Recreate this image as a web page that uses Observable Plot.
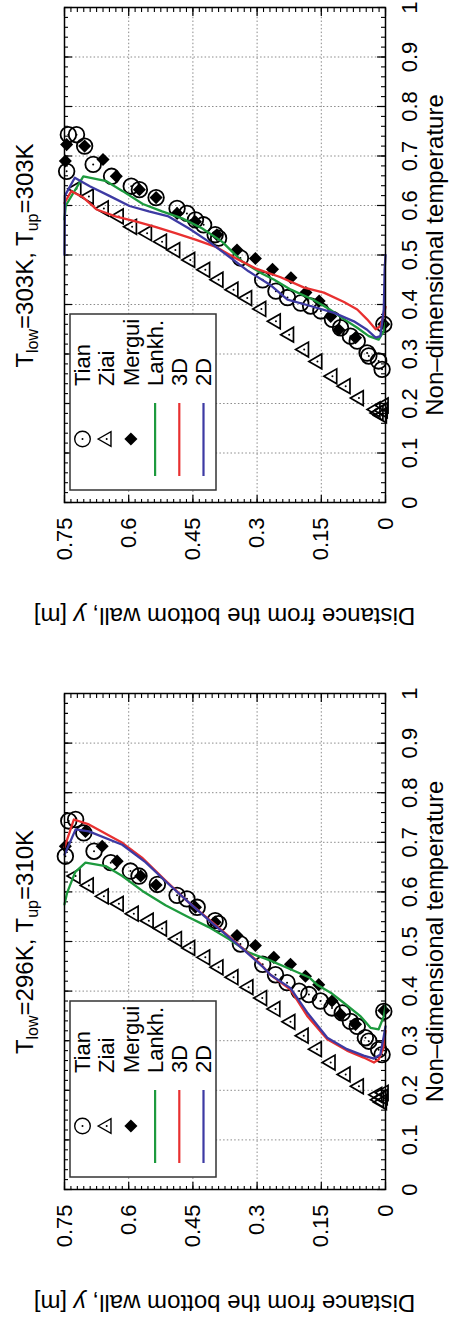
<!DOCTYPE html>
<html><head><meta charset="utf-8">
<script src="https://cdn.jsdelivr.net/npm/d3@7"></script>
<script src="https://cdn.jsdelivr.net/npm/@observablehq/plot@0.6"></script>
<style>
html,body{margin:0;padding:0;background:#fff;overflow:hidden;width:458px;height:1318px;}
#fig{position:absolute;left:0;top:0;width:1318px;height:458px;transform-origin:0 0;transform:translate(0,1318px) rotate(-90deg);display:flex;background:#fff;}
#fig svg{display:block;}
</style></head><body><div id="fig"></div><script>
// ---- axes ----
const tempTicks = [0,0.1,0.2,0.3,0.4,0.5,0.6,0.7,0.8,0.9,1];
const tempTickLabels = ["0","0.1","0.2","0.3","0.4","0.5","0.6","0.7","0.8","0.9","1"];
const distTicks = [0,0.15,0.3,0.45,0.6,0.75];
const distTickLabels = ["0","0.15","0.3","0.45","0.6","0.75"];
const xLabel = "Non\u2013dimensional temperature";
const seriesNames = ["Tian","Ziai","Mergui","Lankh.","3D","2D"];
const lineColors = ["#1d9a3e","#e83030","#3d3aa3"]; // Lankh., 3D, 2D
const panelTitles = [["296K","310K"],["303K","303K"]];

// ---- panel A: T_low=296K, T_up=310K  ([temperature, distance]) ----
const tianA = [[0.672,0.748],[0.743,0.740],[0.746,0.724],[0.719,0.705],[0.682,0.681],[0.659,0.642],[0.642,0.596],[0.632,0.576],[0.615,0.533],[0.593,0.487],[0.586,0.464],[0.569,0.440],[0.542,0.398],[0.536,0.390],[0.495,0.339],[0.454,0.287],[0.433,0.257],[0.417,0.230],[0.400,0.202],[0.393,0.179],[0.380,0.152],[0.366,0.125],[0.356,0.101],[0.339,0.082],[0.329,0.066],[0.306,0.047],[0.299,0.039],[0.282,0.016],[0.272,0.008],[0.359,0.004]];
const ziaiA = [[0.632,0.724],[0.613,0.693],[0.591,0.658],[0.576,0.623],[0.556,0.588],[0.542,0.553],[0.526,0.522],[0.505,0.487],[0.487,0.456],[0.468,0.421],[0.448,0.390],[0.428,0.355],[0.408,0.320],[0.386,0.288],[0.364,0.257],[0.338,0.222],[0.310,0.191],[0.283,0.160],[0.256,0.128],[0.232,0.093],[0.208,0.062],[0.191,0.019],[0.181,0.015],[0.186,0.006],[0.176,0.008],[0.195,0.004]];
const merguiA = [[0.692,0.748],[0.722,0.701],[0.692,0.662],[0.662,0.627],[0.632,0.572],[0.614,0.536],[0.569,0.444],[0.539,0.398],[0.512,0.347],[0.492,0.304],[0.468,0.261],[0.454,0.222],[0.430,0.187],[0.413,0.156],[0.380,0.125],[0.353,0.105],[0.333,0.070],[0.361,0.004]];
const lankhA = [[0.575,0.750],[0.598,0.744],[0.640,0.725],[0.659,0.701],[0.652,0.654],[0.632,0.615],[0.602,0.568],[0.573,0.514],[0.549,0.460],[0.529,0.413],[0.505,0.366],[0.478,0.320],[0.462,0.270],[0.444,0.222],[0.428,0.179],[0.413,0.160],[0.395,0.125],[0.376,0.097],[0.349,0.058],[0.326,0.035],[0.323,0.016],[0.349,0.004],[0.370,0.000]];
const sim3DA = [[0.690,0.750],[0.746,0.728],[0.736,0.693],[0.699,0.615],[0.669,0.569],[0.623,0.514],[0.579,0.460],[0.539,0.405],[0.499,0.351],[0.458,0.296],[0.433,0.269],[0.403,0.222],[0.350,0.183],[0.303,0.136],[0.280,0.090],[0.266,0.051],[0.256,0.027],[0.262,0.016],[0.285,0.005],[0.320,0.000]];
const sim2DA = [[0.675,0.750],[0.726,0.724],[0.722,0.693],[0.695,0.615],[0.660,0.561],[0.616,0.507],[0.573,0.452],[0.532,0.398],[0.492,0.343],[0.450,0.288],[0.433,0.269],[0.406,0.222],[0.357,0.183],[0.306,0.136],[0.283,0.090],[0.270,0.051],[0.264,0.027],[0.272,0.012],[0.309,0.004],[0.329,0.000]];

// ---- panel B: T_low=303K, T_up=303K ----
const tianB = [[0.669,0.745],[0.743,0.741],[0.743,0.722],[0.720,0.703],[0.683,0.683],[0.659,0.640],[0.639,0.594],[0.632,0.575],[0.616,0.536],[0.594,0.487],[0.584,0.464],[0.571,0.444],[0.561,0.425],[0.541,0.398],[0.534,0.390],[0.494,0.339],[0.450,0.287],[0.427,0.256],[0.414,0.229],[0.403,0.198],[0.397,0.175],[0.387,0.151],[0.370,0.124],[0.353,0.105],[0.336,0.082],[0.326,0.066],[0.302,0.043],[0.296,0.039],[0.286,0.016],[0.269,0.008],[0.360,0.004]];
const ziaiB = [[0.634,0.722],[0.618,0.693],[0.594,0.658],[0.578,0.623],[0.557,0.592],[0.544,0.557],[0.527,0.522],[0.510,0.491],[0.490,0.456],[0.470,0.421],[0.450,0.390],[0.430,0.355],[0.413,0.323],[0.391,0.290],[0.366,0.256],[0.339,0.225],[0.309,0.190],[0.285,0.159],[0.255,0.124],[0.235,0.093],[0.211,0.062],[0.188,0.023],[0.181,0.016],[0.186,0.006],[0.176,0.008],[0.196,0.004]];
const merguiB = [[0.723,0.745],[0.690,0.748],[0.720,0.703],[0.693,0.660],[0.659,0.629],[0.632,0.575],[0.616,0.536],[0.584,0.487],[0.567,0.444],[0.541,0.394],[0.510,0.347],[0.493,0.304],[0.471,0.264],[0.454,0.221],[0.424,0.186],[0.407,0.155],[0.376,0.128],[0.349,0.109],[0.333,0.070],[0.360,0.004]];
const lankhB = [[0.572,0.750],[0.600,0.747],[0.659,0.706],[0.649,0.652],[0.629,0.614],[0.603,0.567],[0.588,0.522],[0.574,0.475],[0.554,0.429],[0.527,0.382],[0.487,0.335],[0.462,0.288],[0.450,0.260],[0.430,0.221],[0.410,0.170],[0.390,0.130],[0.372,0.100],[0.353,0.066],[0.336,0.039],[0.329,0.016],[0.346,0.004],[0.363,0.000]];
const sim3DB = [[0.605,0.750],[0.629,0.734],[0.616,0.706],[0.592,0.675],[0.578,0.631],[0.568,0.584],[0.557,0.538],[0.544,0.491],[0.531,0.444],[0.517,0.398],[0.494,0.351],[0.473,0.304],[0.455,0.245],[0.434,0.190],[0.424,0.144],[0.405,0.097],[0.390,0.066],[0.370,0.043],[0.350,0.023],[0.356,0.012],[0.380,0.004],[0.395,0.000]];
const sim2DB = [[0.500,0.750],[0.620,0.749],[0.656,0.726],[0.639,0.691],[0.619,0.644],[0.599,0.598],[0.588,0.553],[0.578,0.507],[0.554,0.460],[0.527,0.413],[0.497,0.366],[0.467,0.320],[0.440,0.270],[0.410,0.229],[0.397,0.175],[0.383,0.120],[0.366,0.074],[0.349,0.043],[0.333,0.023],[0.336,0.012],[0.390,0.004],[0.470,0.002],[0.500,0.000]];

const W = 659, H = 458, MT = 64, MB = 73;
const FONT = "'Liberation Sans', Arial, Helvetica, sans-serif";
const tLab = new Map(tempTicks.map((d,i)=>[d,tempTickLabels[i]]));
const dLab = new Map(distTicks.map((d,i)=>[d,distTickLabels[i]]));
const tMinor = d3.range(51).map(i => i/50);
const dMinor = d3.range(51).map(i => i*0.015);
const R = {circle:7.8, tri:5.5, dia:5.9};
const fig = document.getElementById("fig");

function panel(p){
  const FW = W - p.ml - p.mr, FH = H - MT - MB;
  const BIG = 8, SMALL = 4;
  const X = d => d[0], Y = d => d[1];
  const chart = Plot.plot({
    width: W, height: H, marginLeft: p.ml, marginRight: p.mr, marginTop: MT, marginBottom: MB,
    x: {domain:[0,1]}, y: {domain:[0,0.75]},
    style: {fontFamily: FONT, fontSize: "22px", background: "#fff", color: "#000"},
    marks: [
      Plot.gridX(tempTicks.slice(1,-1), {stroke:"#8a8a8a", strokeOpacity:1, strokeDasharray:"1.5,2.2", strokeWidth:1}),
      Plot.gridY(distTicks.slice(1,-1), {stroke:"#8a8a8a", strokeOpacity:1, strokeDasharray:"1.5,2.2", strokeWidth:1}),
      Plot.tickX(tMinor, {x:d=>d, insetTop: FH-SMALL, stroke:"#000", strokeWidth:1.1}),
      Plot.tickX(tMinor, {x:d=>d, insetBottom: FH-SMALL, stroke:"#000", strokeWidth:1.1}),
      Plot.tickX(tempTicks, {x:d=>d, insetTop: FH-BIG, stroke:"#000", strokeWidth:1.2}),
      Plot.tickX(tempTicks, {x:d=>d, insetBottom: FH-BIG, stroke:"#000", strokeWidth:1.2}),
      Plot.tickY(dMinor, {y:d=>d, insetRight: FW-SMALL, stroke:"#000", strokeWidth:1.1}),
      Plot.tickY(dMinor, {y:d=>d, insetLeft: FW-SMALL, stroke:"#000", strokeWidth:1.1}),
      Plot.tickY(distTicks, {y:d=>d, insetRight: FW-BIG, stroke:"#000", strokeWidth:1.2}),
      Plot.tickY(distTicks, {y:d=>d, insetLeft: FW-BIG, stroke:"#000", strokeWidth:1.2}),
      Plot.axisX(tempTicks, {tickSize:0, tickPadding:16, tickFormat:d=>tLab.get(d), fontSize:22, label:null}),
      Plot.axisY(distTicks, {tickSize:0, tickPadding:15, tickFormat:d=>dLab.get(d), fontSize:22, label:null}),
      Plot.dot(p.tian, {x:X, y:Y, r:R.circle, stroke:"#000", strokeWidth:1.8, fill:"none"}),
      Plot.dot(p.tian, {x:X, y:Y, r:1, fill:"#000"}),
      Plot.dot(p.ziai, {x:X, y:Y, symbol:"triangle", r:R.tri, stroke:"#000", strokeWidth:1.7, fill:"none"}),
      Plot.dot(p.ziai, {x:X, y:Y, r:1, fill:"#000"}),
      Plot.dot(p.mergui, {x:X, y:Y, symbol:"diamond2", r:R.dia, fill:"#000", stroke:"none"}),
      Plot.line(p.lankh, {x:X, y:Y, stroke:lineColors[0], strokeWidth:2.3}),
      Plot.line(p.s3d, {x:X, y:Y, stroke:lineColors[1], strokeWidth:2.3}),
      Plot.line(p.s2d, {x:X, y:Y, stroke:lineColors[2], strokeWidth:2.3}),
      Plot.frame({stroke:"#000", strokeWidth:1.5}),
      Plot.text([xLabel], {frameAnchor:"bottom", dy:57, fontSize:24, fill:"#000"})
    ]
  });
  fig.appendChild(chart);
  const svg = d3.select(chart);
  // title (centred by measured width)
  const t = svg.append("text").attr("y", 33).attr("text-anchor","start")
    .attr("font-size",24).attr("fill","#000");
  t.append("tspan").text("T");
  t.append("tspan").attr("font-size",16).attr("dy",5).text("low");
  t.append("tspan").attr("dy",-5).text("=" + p.title[0] + ", T");
  t.append("tspan").attr("font-size",16).attr("dy",5).text("up");
  t.append("tspan").attr("dy",-5).text("=" + p.title[1]);
  const tw = t.node().getComputedTextLength();
  t.attr("x", p.ml + FW/2 - tw/2);
  // y label (centred by measured width)
  const yl = svg.append("text").attr("text-anchor","start").attr("font-size",24).attr("fill","#000");
  yl.append("tspan").text("Distance from the bottom wall, ");
  yl.append("tspan").attr("font-style","italic").text("y");
  yl.append("tspan").text(" [m]");
  const yw = yl.node().getComputedTextLength();
  yl.attr("transform",`translate(${p.ml-105},${MT+FH/2+yw/2}) rotate(-90)`);
  // legend
  const lx = p.ml + 13, ly = MT + 6;
  const g = svg.append("g");
  g.append("rect").attr("x",lx).attr("y",ly).attr("width",176).attr("height",146)
    .attr("fill","#fff").attr("stroke","#333").attr("stroke-width",1.5);
  seriesNames.forEach((name,i)=>{
    const cy = ly + 12.5 + i*24.2, cx = lx + 51;
    if (i===0){
      g.append("circle").attr("cx",cx).attr("cy",cy).attr("r",R.circle).attr("fill","none").attr("stroke","#000").attr("stroke-width",1.4);
      g.append("circle").attr("cx",cx).attr("cy",cy).attr("r",1).attr("fill","#000");
    } else if (i===1){
      g.append("path").attr("transform",`translate(${cx},${cy})`).attr("d",d3.symbol(d3.symbolTriangle, Math.PI*R.tri*R.tri)())
        .attr("fill","none").attr("stroke","#000").attr("stroke-width",1.4);
      g.append("circle").attr("cx",cx).attr("cy",cy).attr("r",1).attr("fill","#000");
    } else if (i===2){
      g.append("path").attr("transform",`translate(${cx},${cy})`).attr("d",d3.symbol(d3.symbolDiamond2, Math.PI*R.dia*R.dia)())
        .attr("fill","#000");
    } else {
      g.append("line").attr("x1",lx+14).attr("x2",lx+87).attr("y1",cy).attr("y2",cy)
        .attr("stroke",lineColors[i-3]).attr("stroke-width",2.2);
    }
    g.append("text").attr("x",lx+104).attr("y",cy).attr("dy","0.35em").attr("text-anchor","start")
      .attr("font-size",22).attr("fill","#000").text(name);
  });
  return chart;
}

panel({ml:128, mr:35, title:panelTitles[0], tian:tianA, ziai:ziaiA, mergui:merguiA, lankh:lankhA, s3d:sim3DA, s2d:sim2DA});
panel({ml:156, mr:8, title:panelTitles[1], tian:tianB, ziai:ziaiB, mergui:merguiB, lankh:lankhB, s3d:sim3DB, s2d:sim2DB});
</script></body></html>
